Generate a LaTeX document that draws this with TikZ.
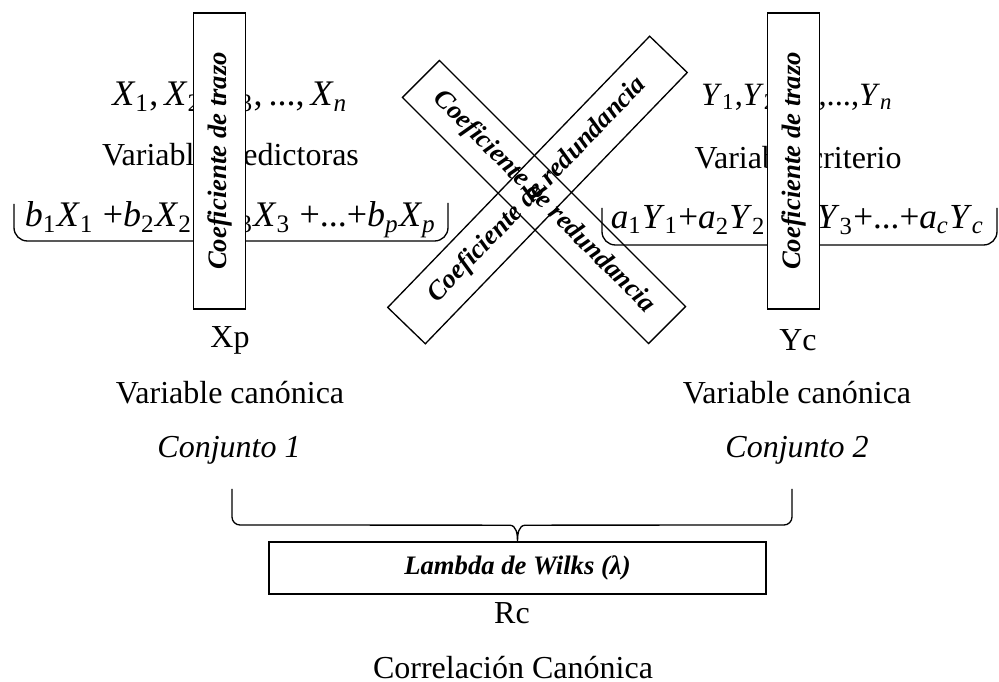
\documentclass[tikz,border=0pt]{standalone}
\usepackage{amsmath}
\usepackage{fontspec}
\setmainfont{Liberation Serif}
\usetikzlibrary{calc}
\newcommand{\vsub}[2]{\textit{#1}$_{\text{#2}}$}

\begin{document}
\begin{tikzpicture}[x=0.375pt,y=-0.375pt,
	lbl/.style={font=\fontsize{12}{14}\selectfont, inner sep=1pt},
	itlbl/.style={font=\itshape\fontsize{12}{14}\selectfont, inner sep=1pt},
	frm/.style={font=\fontsize{13.5}{16}\selectfont, inner sep=1pt},
	coef/.style={draw, line width=0.5pt, inner sep=0pt, font=\bfseries\itshape\fontsize{10}{12}\selectfont, minimum height=19.6pt},
	brk/.style={line width=0.5pt, rounded corners=5pt}]
		\useasboundingbox (0,0) rectangle (999,682);
		% conjunto 1
		\node[frm] (xs) at (230,97) {\vsub{X}{1},\,\vsub{X}{2},\,\vsub{X}{3},\,...,\,\vsub{X}{\textit{n}}};
		\node[lbl] (vp) at (230.5,158) {Variable predictoras};
		\node[frm] (fx) at (230.5,220) {\vsub{b}{1}\vsub{X}{1} +\vsub{b}{2}\vsub{X}{2} +\vsub{b}{3}\vsub{X}{3} +...+\vsub{b}{\textit{p}}\vsub{X}{\textit{p}}};
		\draw[brk] (14,204) -- (14,241) -- (448,241) -- (448,203);
		% conjunto 2
		\node[frm, font=\fontsize{12.2}{15}\selectfont] (ys) at (797,97) {\vsub{Y}{1},\vsub{Y}{2},\vsub{Y}{3},...,\vsub{Y}{\textit{n}}};
		\node[lbl] (vcr) at (798,158) {Variable criterio};
		\node[frm, font=\fontsize{13.2}{16}\selectfont] (fy) at (797.5,220) {\vsub{a}{1}\vsub{Y}{1}+\vsub{a}{2}\vsub{Y}{2}+\vsub{a}{3}\vsub{Y}{3}+...+\vsub{a}{\textit{c}}\vsub{Y}{\textit{c}}};
		\draw[brk] (602,208) -- (602,245) -- (997,245) -- (997,208);
		% coeficientes
		\node[coef, fill=white, rotate=90, minimum width=111pt] (tr1) at (219.5,161) {Coeficiente de trazo};
		\node[coef, fill=white, rotate=90, minimum width=111pt] (tr2) at (793.5,161) {Coeficiente de trazo};
		\node[coef, rotate=-45, minimum width=130.5pt] (rd1) at (544,202) {Coeficiente de redundancia};
		\node[coef, rotate=46, minimum width=141.4pt] (rd2) at (537.5,190) {Coeficiente de redundancia};
		% variables canonicas
		\node[lbl] (xp) at (230,340) {Xp};
		\node[lbl] (vc1) at (230,393) {Variable canónica};
		\node[itlbl] (cj1) at (229,450) {Conjunto 1};
		\node[lbl] (yc) at (798,340) {Yc};
		\node[lbl] (vc2) at (797,393) {Variable canónica};
		\node[itlbl] (cj2) at (797,450) {Conjunto 2};
		% correlacion
		\node[coef, minimum width=186.4pt] (lam) at (517.5,568) {Lambda de Wilks (λ)};
		\node[lbl] (rc) at (512,613) {Rc};
		\node[lbl] (cc) at (513,668) {Correlación Canónica};
		\coordinate (c1) at (232,489);
		\coordinate (c2) at (792,489);
		\draw[line width=0.5pt] (c1) -- (232,517) to[out=-90,in=180] (240,525) -- ($(lam.north)+(-8,-16)$) to[out=0,in=90] (lam.north)
			to[out=90,in=180] ($(lam.north)+(8,-16)$) -- (784,525) to[out=0,in=-90] (792,517) -- (c2);
\end{tikzpicture}
\end{document}
